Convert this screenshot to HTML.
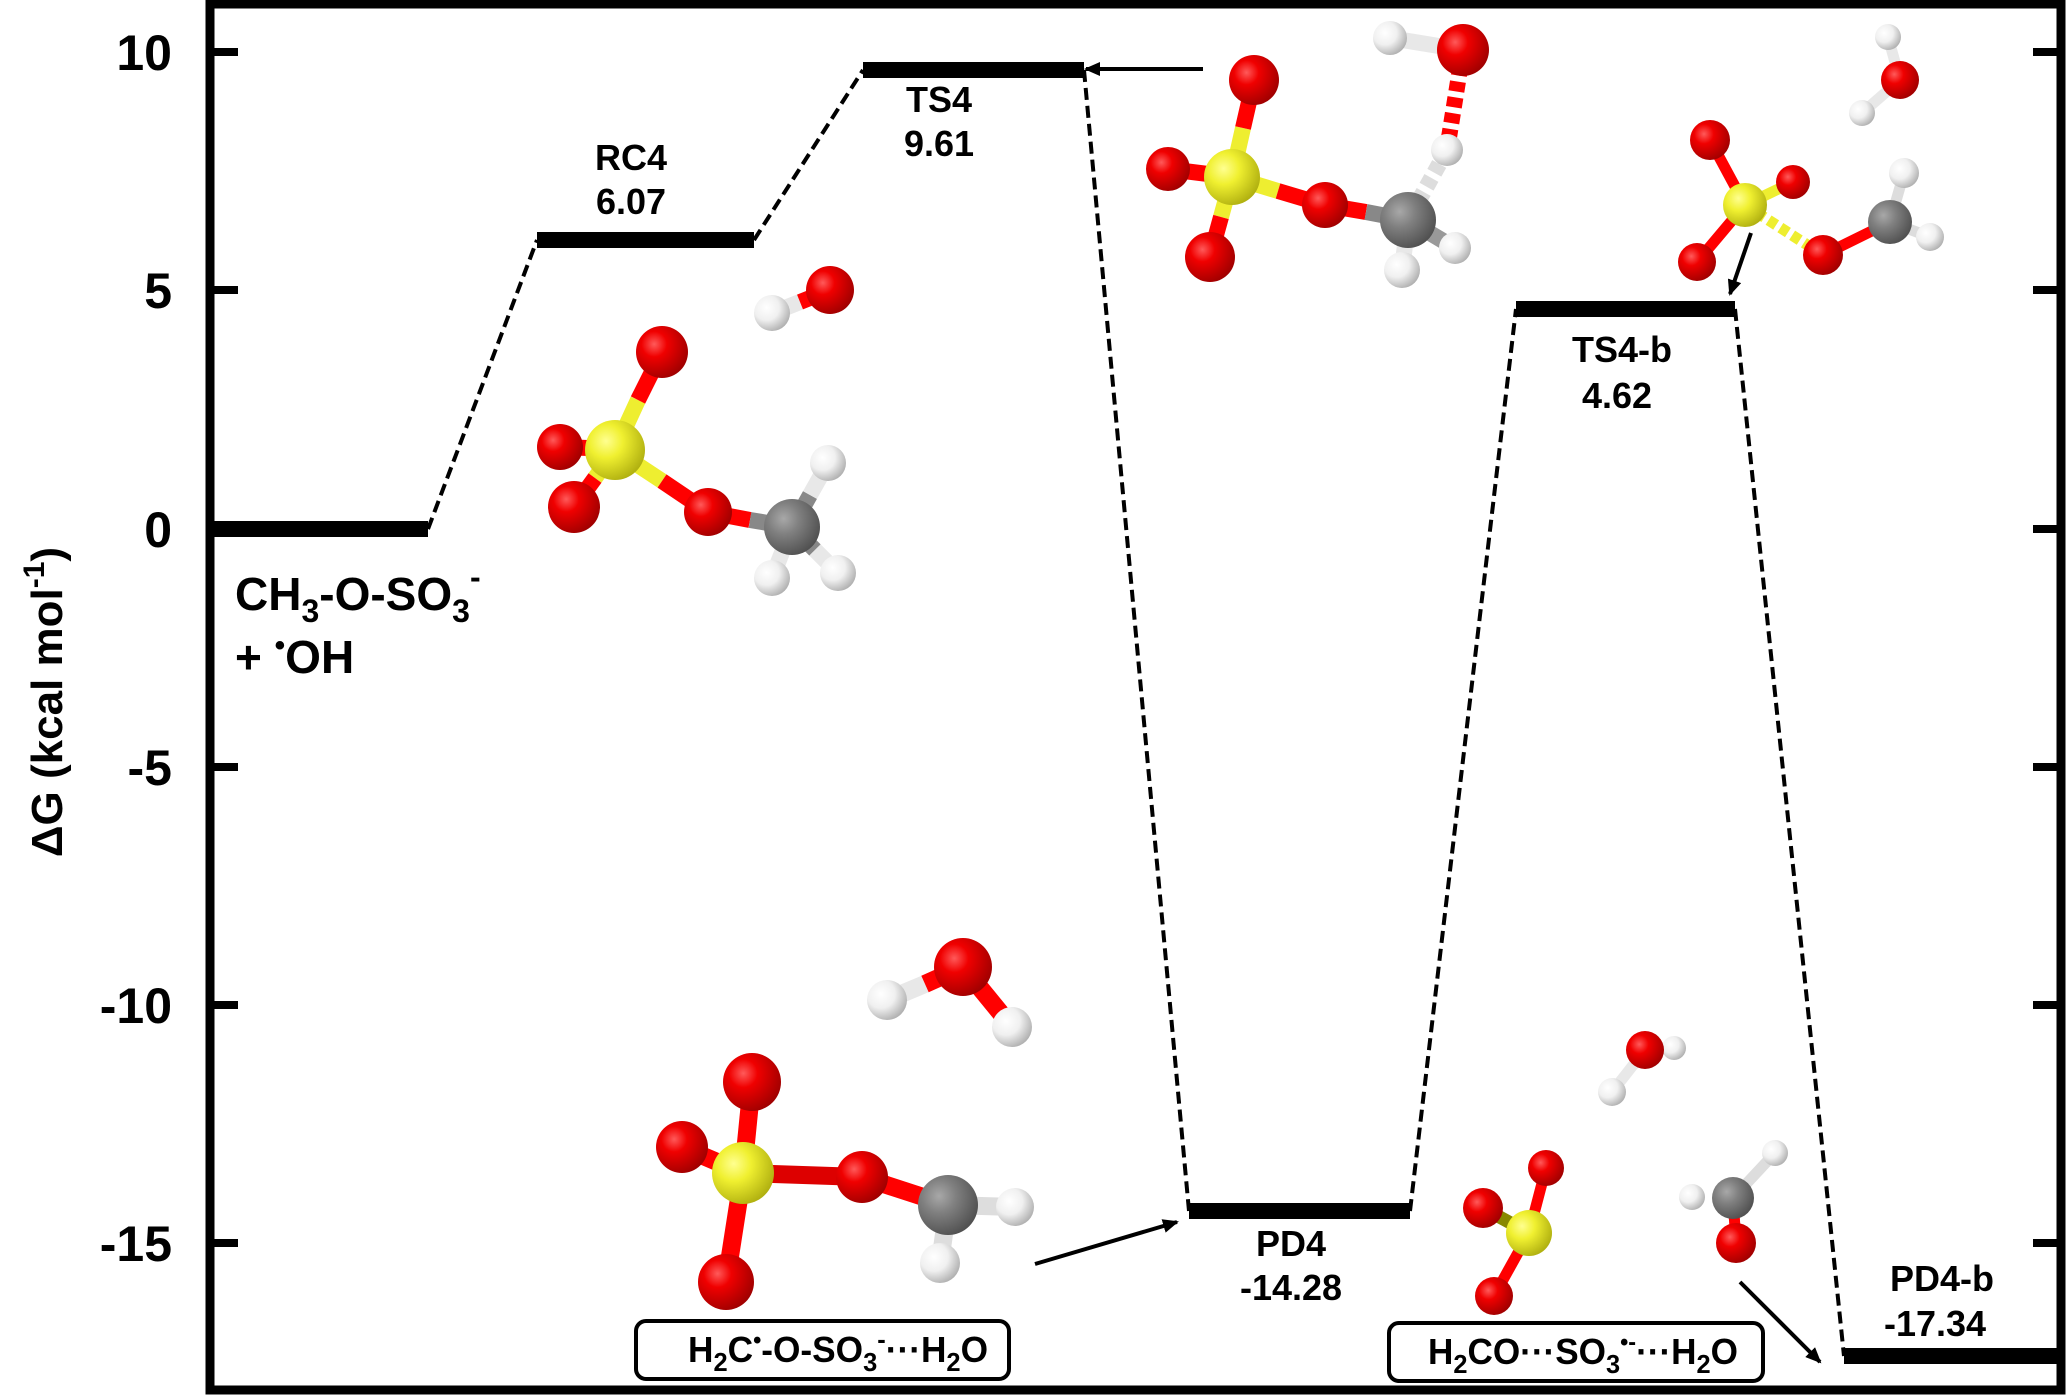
<!DOCTYPE html>
<html><head><meta charset="utf-8"><style>
html,body{margin:0;padding:0;background:#fff;}
svg{display:block;}
text{font-family:"Liberation Sans",Arial,sans-serif;font-weight:bold;fill:#000;}
</style></head><body>
<svg width="2067" height="1395" viewBox="0 0 2067 1395" xmlns="http://www.w3.org/2000/svg">
<defs>
<radialGradient id="gO" cx="0.35" cy="0.35" r="0.7"><stop offset="0" stop-color="#ff5a5a"/><stop offset="0.35" stop-color="#f00000"/><stop offset="1" stop-color="#a00000"/></radialGradient>
<radialGradient id="gS" cx="0.35" cy="0.35" r="0.7"><stop offset="0" stop-color="#ffff90"/><stop offset="0.4" stop-color="#f0f030"/><stop offset="1" stop-color="#b0b010"/></radialGradient>
<radialGradient id="gC" cx="0.35" cy="0.35" r="0.7"><stop offset="0" stop-color="#a8a8a8"/><stop offset="0.4" stop-color="#808080"/><stop offset="1" stop-color="#505050"/></radialGradient>
<radialGradient id="gH" cx="0.35" cy="0.35" r="0.7"><stop offset="0" stop-color="#ffffff"/><stop offset="0.5" stop-color="#f0f0f0"/><stop offset="1" stop-color="#b0b0b0"/></radialGradient>
<marker id="ah" markerWidth="16" markerHeight="14" refX="14" refY="7" orient="auto" markerUnits="userSpaceOnUse" viewBox="0 0 16 14"><path d="M0,0 L16,7 L0,14 z" fill="#000"/></marker>
</defs>

<rect x="210" y="4" width="1851" height="1386" fill="none" stroke="#000" stroke-width="9"/>
<g stroke="#000" stroke-width="8">
<line x1="210" y1="52" x2="238" y2="52"/><line x1="210" y1="290" x2="238" y2="290"/>
<line x1="210" y1="767" x2="238" y2="767"/><line x1="210" y1="1005" x2="238" y2="1005"/>
<line x1="210" y1="1243" x2="238" y2="1243"/>
<line x1="2033" y1="52" x2="2061" y2="52"/><line x1="2033" y1="290" x2="2061" y2="290"/>
<line x1="2033" y1="529" x2="2061" y2="529"/><line x1="2033" y1="767" x2="2061" y2="767"/>
<line x1="2033" y1="1005" x2="2061" y2="1005"/><line x1="2033" y1="1243" x2="2061" y2="1243"/>
</g>
<g font-size="50" text-anchor="end">
<text x="172" y="70">10</text><text x="172" y="308">5</text><text x="172" y="547">0</text>
<text x="172" y="785">-5</text><text x="172" y="1023">-10</text><text x="172" y="1261">-15</text>
</g>
<text transform="translate(62,702) rotate(-90)" font-size="44" text-anchor="middle">ΔG (kcal mol<tspan font-size="30" dy="-18">-1</tspan><tspan dy="18">)</tspan></text>

<g stroke="#000" stroke-width="16">
<line x1="214" y1="529" x2="428" y2="529"/>
<line x1="537" y1="240" x2="754" y2="240"/>
<line x1="863" y1="70" x2="1084" y2="70"/>
<line x1="1189" y1="1211" x2="1410" y2="1211"/>
<line x1="1516" y1="309" x2="1735" y2="309"/>
<line x1="1844" y1="1356" x2="2058" y2="1356"/>
</g>
<g stroke="#000" stroke-width="4" stroke-dasharray="12,6" fill="none">
<line x1="428" y1="529" x2="537" y2="240"/>
<line x1="754" y1="240" x2="863" y2="70"/>
<line x1="1084" y1="70" x2="1189" y2="1211"/>
<line x1="1410" y1="1211" x2="1516" y2="309"/>
<line x1="1735" y1="309" x2="1844" y2="1356"/>
</g>

<g font-size="36" text-anchor="middle">
<text x="631" y="170">RC4</text><text x="631" y="214">6.07</text>
<text x="939" y="112">TS4</text><text x="939" y="156">9.61</text>
<text x="1291" y="1256">PD4</text><text x="1291" y="1300">-14.28</text>
<text x="1622" y="362">TS4-b</text><text x="1617" y="408">4.62</text>
<text x="1942" y="1291">PD4-b</text><text x="1935" y="1336">-17.34</text>
</g>
<text x="235" y="610" font-size="46">CH<tspan font-size="32" dy="12">3</tspan><tspan dy="-12">-O-SO</tspan><tspan font-size="32" dy="12">3</tspan><tspan font-size="32" dy="-34">-</tspan></text>
<text x="235" y="673" font-size="46">+ <tspan font-size="30" dy="-18">•</tspan><tspan dy="18">OH</tspan></text>

<rect x="636" y="1321" width="373" height="58" rx="10" fill="#fff" stroke="#000" stroke-width="4"/>
<text x="688" y="1362" font-size="36" textLength="300" lengthAdjust="spacingAndGlyphs">H<tspan font-size="26" dy="9">2</tspan><tspan dy="-9">C</tspan><tspan font-size="24" dy="-14">•</tspan><tspan dy="14">-O-SO</tspan><tspan font-size="26" dy="9">3</tspan><tspan font-size="26" dy="-23">-</tspan><tspan dy="14">···H</tspan><tspan font-size="26" dy="9">2</tspan><tspan dy="-9">O</tspan></text>
<rect x="1389" y="1323" width="374" height="58" rx="10" fill="#fff" stroke="#000" stroke-width="4"/>
<text x="1428" y="1364" font-size="36" textLength="310" lengthAdjust="spacingAndGlyphs">H<tspan font-size="26" dy="9">2</tspan><tspan dy="-9">CO···SO</tspan><tspan font-size="26" dy="9">3</tspan><tspan font-size="24" dy="-23">•-</tspan><tspan dy="14">···H</tspan><tspan font-size="26" dy="9">2</tspan><tspan dy="-9">O</tspan></text>

<g stroke="#000" stroke-width="4" marker-end="url(#ah)">
<line x1="1203" y1="69" x2="1086" y2="69"/>
<line x1="1035" y1="1264" x2="1177" y2="1222"/>
<line x1="1751" y1="233" x2="1730" y2="294"/>
<line x1="1740" y1="1282" x2="1820" y2="1362"/>
</g>

<g stroke-width="16" stroke-linecap="butt">
<line x1="772" y1="313" x2="800" y2="302" stroke="#e8e8e8"/><line x1="800" y1="302" x2="830" y2="290" stroke="#f00"/>
<line x1="615" y1="450" x2="638" y2="400" stroke="#eeee30"/><line x1="638" y1="400" x2="662" y2="352" stroke="#f00"/>
<line x1="615" y1="450" x2="588" y2="448" stroke="#eeee30"/><line x1="588" y1="448" x2="560" y2="447" stroke="#f00"/>
<line x1="615" y1="450" x2="595" y2="478" stroke="#eeee30"/><line x1="595" y1="478" x2="574" y2="507" stroke="#f00"/>
<line x1="615" y1="450" x2="662" y2="481" stroke="#eeee30"/><line x1="662" y1="481" x2="708" y2="512" stroke="#f00"/>
<line x1="708" y1="512" x2="750" y2="520" stroke="#f00"/><line x1="750" y1="520" x2="792" y2="527" stroke="#888"/>
<line x1="792" y1="527" x2="810" y2="495" stroke="#888"/><line x1="810" y1="495" x2="828" y2="463" stroke="#e8e8e8"/>
<line x1="792" y1="527" x2="772" y2="578" stroke="#e8e8e8"/>
<line x1="792" y1="527" x2="815" y2="550" stroke="#888"/><line x1="815" y1="550" x2="838" y2="573" stroke="#e8e8e8"/>
<line x1="1232" y1="177" x2="1243" y2="128" stroke="#eeee30"/><line x1="1243" y1="128" x2="1254" y2="80" stroke="#f00"/>
<line x1="1232" y1="177" x2="1168" y2="169" stroke="#f00"/>
<line x1="1232" y1="177" x2="1221" y2="217" stroke="#eeee30"/><line x1="1221" y1="217" x2="1210" y2="257" stroke="#f00"/>
<line x1="1232" y1="177" x2="1278" y2="191" stroke="#eeee30"/><line x1="1278" y1="191" x2="1325" y2="205" stroke="#f00"/>
<line x1="1325" y1="205" x2="1366" y2="212" stroke="#f00"/><line x1="1366" y1="212" x2="1408" y2="220" stroke="#888"/>
<line x1="1408" y1="220" x2="1402" y2="270" stroke="#e8e8e8"/>
<line x1="1408" y1="220" x2="1455" y2="248" stroke="#999"/>
<line x1="1390" y1="38" x2="1463" y2="50" stroke="#e8e8e8"/>
<line x1="1463" y1="50" x2="1447" y2="150" stroke="#f00" stroke-width="16" stroke-dasharray="10,6"/>
<line x1="1447" y1="150" x2="1408" y2="220" stroke="#ddd" stroke-width="16" stroke-dasharray="10,6"/>
<line x1="1888" y1="37" x2="1900" y2="80" stroke="#e8e8e8" stroke-width="11"/>
<line x1="1900" y1="80" x2="1862" y2="113" stroke="#e8e8e8" stroke-width="11"/>
<line x1="1745" y1="205" x2="1710" y2="140" stroke="#f00" stroke-width="11"/>
<line x1="1745" y1="205" x2="1793" y2="182" stroke="#eeee30" stroke-width="11"/>
<line x1="1745" y1="205" x2="1697" y2="262" stroke="#f00" stroke-width="11"/>
<line x1="1745" y1="205" x2="1823" y2="255" stroke="#eeee30" stroke-width="11" stroke-dasharray="9,5"/>
<line x1="1823" y1="255" x2="1890" y2="222" stroke="#f00" stroke-width="11"/>
<line x1="1890" y1="222" x2="1904" y2="173" stroke="#ddd" stroke-width="11"/>
<line x1="1890" y1="222" x2="1930" y2="237" stroke="#ddd" stroke-width="11"/>
<line x1="887" y1="1000" x2="925" y2="984" stroke="#e8e8e8" stroke-width="18"/><line x1="925" y1="984" x2="963" y2="967" stroke="#f00" stroke-width="18"/>
<line x1="963" y1="967" x2="1012" y2="1027" stroke="#f00" stroke-width="18"/>
<line x1="743" y1="1173" x2="752" y2="1082" stroke="#f00" stroke-width="18"/>
<line x1="743" y1="1173" x2="682" y2="1147" stroke="#f00" stroke-width="18"/>
<line x1="743" y1="1173" x2="726" y2="1282" stroke="#f00" stroke-width="18"/>
<line x1="743" y1="1173" x2="862" y2="1177" stroke="#d00" stroke-width="18"/>
<line x1="862" y1="1177" x2="948" y2="1205" stroke="#f00" stroke-width="18"/>
<line x1="948" y1="1205" x2="1015" y2="1207" stroke="#ddd" stroke-width="18"/>
<line x1="948" y1="1205" x2="940" y2="1263" stroke="#ddd" stroke-width="18"/>
<line x1="1645" y1="1050" x2="1612" y2="1092" stroke="#e8e8e8" stroke-width="11"/>
<line x1="1529" y1="1233" x2="1546" y2="1168" stroke="#f00" stroke-width="11"/>
<line x1="1529" y1="1233" x2="1483" y2="1208" stroke="#880" stroke-width="13"/>
<line x1="1529" y1="1233" x2="1494" y2="1296" stroke="#f00" stroke-width="11"/>
<line x1="1733" y1="1198" x2="1775" y2="1153" stroke="#ddd" stroke-width="11"/>
<line x1="1733" y1="1198" x2="1736" y2="1243" stroke="#f00" stroke-width="11"/>
</g>

<g>
<circle cx="772" cy="313" r="18" fill="url(#gH)"/><circle cx="830" cy="290" r="24" fill="url(#gO)"/>
<circle cx="662" cy="352" r="26" fill="url(#gO)"/><circle cx="560" cy="447" r="23" fill="url(#gO)"/>
<circle cx="615" cy="450" r="30" fill="url(#gS)"/><circle cx="574" cy="507" r="26" fill="url(#gO)"/>
<circle cx="708" cy="512" r="24" fill="url(#gO)"/><circle cx="828" cy="463" r="18" fill="url(#gH)"/>
<circle cx="838" cy="573" r="18" fill="url(#gH)"/><circle cx="792" cy="527" r="28" fill="url(#gC)"/>
<circle cx="772" cy="578" r="18" fill="url(#gH)"/>
<circle cx="1390" cy="38" r="17" fill="url(#gH)"/><circle cx="1463" cy="50" r="26" fill="url(#gO)"/>
<circle cx="1447" cy="150" r="16" fill="url(#gH)"/>
<circle cx="1254" cy="80" r="25" fill="url(#gO)"/><circle cx="1168" cy="169" r="22" fill="url(#gO)"/>
<circle cx="1232" cy="177" r="28" fill="url(#gS)"/><circle cx="1210" cy="257" r="25" fill="url(#gO)"/>
<circle cx="1325" cy="205" r="23" fill="url(#gO)"/><circle cx="1455" cy="248" r="16" fill="url(#gH)"/>
<circle cx="1408" cy="220" r="28" fill="url(#gC)"/><circle cx="1402" cy="270" r="18" fill="url(#gH)"/>
<circle cx="1888" cy="37" r="13" fill="url(#gH)"/><circle cx="1862" cy="113" r="13" fill="url(#gH)"/>
<circle cx="1900" cy="80" r="19" fill="url(#gO)"/>
<circle cx="1710" cy="140" r="20" fill="url(#gO)"/><circle cx="1793" cy="182" r="17" fill="url(#gO)"/>
<circle cx="1745" cy="205" r="22" fill="url(#gS)"/><circle cx="1697" cy="262" r="19" fill="url(#gO)"/>
<circle cx="1823" cy="255" r="20" fill="url(#gO)"/><circle cx="1904" cy="173" r="15" fill="url(#gH)"/>
<circle cx="1930" cy="237" r="14" fill="url(#gH)"/><circle cx="1890" cy="222" r="22" fill="url(#gC)"/>
<circle cx="887" cy="1000" r="20" fill="url(#gH)"/><circle cx="1012" cy="1027" r="20" fill="url(#gH)"/>
<circle cx="963" cy="967" r="29" fill="url(#gO)"/>
<circle cx="752" cy="1082" r="29" fill="url(#gO)"/><circle cx="682" cy="1147" r="26" fill="url(#gO)"/>
<circle cx="743" cy="1173" r="31" fill="url(#gS)"/><circle cx="726" cy="1282" r="28" fill="url(#gO)"/>
<circle cx="862" cy="1177" r="26" fill="url(#gO)"/><circle cx="1015" cy="1207" r="19" fill="url(#gH)"/>
<circle cx="948" cy="1205" r="30" fill="url(#gC)"/><circle cx="940" cy="1263" r="20" fill="url(#gH)"/>
<circle cx="1674" cy="1048" r="12" fill="url(#gH)"/><circle cx="1645" cy="1050" r="19" fill="url(#gO)"/>
<circle cx="1612" cy="1092" r="14" fill="url(#gH)"/>
<circle cx="1546" cy="1168" r="18" fill="url(#gO)"/><circle cx="1483" cy="1208" r="20" fill="url(#gO)"/>
<circle cx="1529" cy="1233" r="23" fill="url(#gS)"/><circle cx="1494" cy="1296" r="19" fill="url(#gO)"/>
<circle cx="1775" cy="1153" r="13" fill="url(#gH)"/><circle cx="1692" cy="1197" r="13" fill="url(#gH)"/>
<circle cx="1733" cy="1198" r="21" fill="url(#gC)"/><circle cx="1736" cy="1243" r="20" fill="url(#gO)"/>
</g>
</svg>
</body></html>
